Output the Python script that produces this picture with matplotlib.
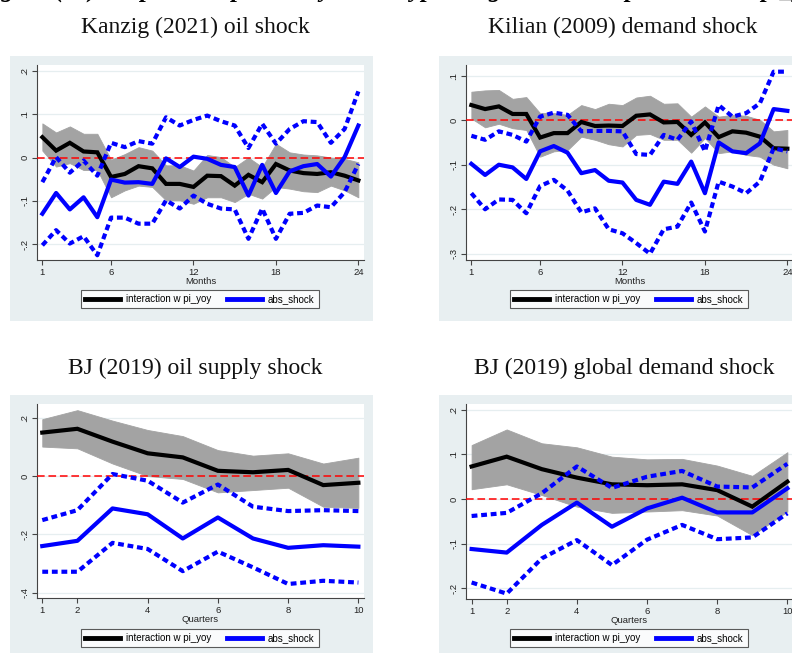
import matplotlib
matplotlib.use("Agg")
import matplotlib.pyplot as plt
from matplotlib.patches import Rectangle
from matplotlib.lines import Line2D

# ---- data ----
months = list(range(1, 25))
quarters = list(range(1, 11))

# Kanzig (2021) oil shock
k_pt = [0.047, 0.016, 0.034, 0.014, 0.012, -0.045, -0.038, -0.020, -0.025, -0.061, -0.061, -0.068,
        -0.042, -0.043, -0.065, -0.040, -0.057, -0.015, -0.030, -0.036, -0.038, -0.034, -0.042, -0.053]
k_hi = [0.079, 0.058, 0.072, 0.055, 0.055, -0.005, 0.008, 0.024, 0.016, -0.018, -0.018, -0.030,
        0.006, 0.001, -0.022, 0.000, -0.022, 0.032, 0.012, 0.007, 0.005, 0.000, -0.003, -0.011]
k_lo = [0.016, -0.021, -0.013, -0.029, -0.029, -0.092, -0.076, -0.065, -0.068, -0.099, -0.099, -0.107,
        -0.092, -0.092, -0.103, -0.084, -0.095, -0.068, -0.072, -0.078, -0.080, -0.065, -0.076, -0.092]
k_abs = [-0.130, -0.082, -0.120, -0.092, -0.138, -0.051, -0.058, -0.057, -0.061, -0.002, -0.022, 0.002,
         -0.003, -0.017, -0.022, -0.088, -0.017, -0.082, -0.032, -0.020, -0.015, -0.044, 0.001, 0.074]
k_abs_hi = [-0.057, 0.001, -0.035, -0.007, -0.042, 0.034, 0.024, 0.038, 0.032, 0.093, 0.074, 0.087,
            0.097, 0.084, 0.074, 0.022, 0.078, 0.032, 0.066, 0.084, 0.082, 0.034, 0.066, 0.153]
k_abs_lo = [-0.203, -0.168, -0.199, -0.182, -0.226, -0.139, -0.139, -0.153, -0.153, -0.099, -0.118, -0.088,
            -0.107, -0.118, -0.120, -0.188, -0.118, -0.188, -0.130, -0.128, -0.111, -0.115, -0.080, -0.015]

# Kilian (2009) demand shock
l_pt = [0.034, 0.025, 0.031, 0.014, 0.014, -0.039, -0.029, -0.029, -0.004, -0.013, -0.012, -0.013,
        0.010, 0.013, -0.005, -0.004, -0.033, -0.005, -0.038, -0.025, -0.028, -0.037, -0.063, -0.064]
l_hi = [0.064, 0.067, 0.068, 0.048, 0.052, 0.016, 0.016, 0.012, 0.034, 0.025, 0.037, 0.034,
        0.051, 0.055, 0.037, 0.038, 0.008, 0.031, 0.008, 0.012, 0.010, 0.001, -0.025, -0.022]
l_lo = [0.004, -0.016, -0.008, -0.018, -0.022, -0.082, -0.070, -0.067, -0.037, -0.044, -0.054, -0.059,
        -0.033, -0.031, -0.044, -0.044, -0.073, -0.040, -0.074, -0.070, -0.078, -0.082, -0.100, -0.108]
l_abs = [-0.098, -0.123, -0.100, -0.106, -0.132, -0.070, -0.058, -0.073, -0.119, -0.112, -0.136, -0.140,
         -0.179, -0.190, -0.138, -0.143, -0.093, -0.164, -0.050, -0.070, -0.074, -0.052, 0.025, 0.021]
l_abs_hi = [-0.035, -0.044, -0.025, -0.033, -0.048, 0.008, 0.017, 0.012, -0.025, -0.024, -0.024, -0.025,
            -0.076, -0.078, -0.033, -0.044, -0.003, -0.070, 0.034, 0.008, 0.016, 0.038, 0.109, 0.109]
l_abs_lo = [-0.164, -0.200, -0.178, -0.179, -0.209, -0.148, -0.134, -0.158, -0.207, -0.198, -0.245, -0.254,
            -0.276, -0.300, -0.245, -0.239, -0.185, -0.250, -0.138, -0.149, -0.164, -0.138, -0.063, -0.070]

# BJ (2019) oil supply shock
s_pt = [0.149, 0.162, 0.118, 0.078, 0.064, 0.018, 0.013, 0.021, -0.031, -0.023]
s_hi = [0.195, 0.226, 0.190, 0.158, 0.137, 0.089, 0.070, 0.078, 0.043, 0.063]
s_lo = [0.101, 0.095, 0.043, 0.000, -0.010, -0.056, -0.048, -0.040, -0.105, -0.109]
s_abs = [-0.240, -0.222, -0.111, -0.131, -0.214, -0.142, -0.214, -0.246, -0.237, -0.242]
s_abs_hi = [-0.151, -0.117, 0.007, -0.016, -0.091, -0.029, -0.105, -0.120, -0.117, -0.120]
s_abs_lo = [-0.328, -0.328, -0.229, -0.250, -0.326, -0.259, -0.313, -0.370, -0.359, -0.365]

# BJ (2019) global demand shock
g_pt = [0.073, 0.095, 0.067, 0.048, 0.033, 0.031, 0.033, 0.020, -0.017, 0.039]
g_hi = [0.121, 0.156, 0.125, 0.116, 0.095, 0.089, 0.090, 0.075, 0.052, 0.105]
g_lo = [0.022, 0.033, 0.009, -0.017, -0.031, -0.028, -0.025, -0.037, -0.081, -0.028]
g_abs = [-0.112, -0.120, -0.058, -0.008, -0.062, -0.021, 0.003, -0.030, -0.030, 0.024]
g_abs_hi = [-0.038, -0.031, 0.013, 0.073, 0.025, 0.050, 0.063, 0.028, 0.026, 0.079]
g_abs_lo = [-0.187, -0.212, -0.133, -0.092, -0.148, -0.091, -0.058, -0.090, -0.086, -0.032]

titles = ["Kanzig (2021) oil shock", "Kilian (2009) demand shock",
          "BJ (2019) oil supply shock", "BJ (2019) global demand shock"]
legend_labels = ["interaction w pi_yoy", "abs_shock"]

W, H = 792, 653
BG = "#e8eff1"
GREY = "#a3a3a3"
BLUE = "#0000ff"
sans = "Liberation Sans"
serif = "Liberation Serif"
FS = 6.8

fig = plt.figure(figsize=(W / 100, H / 100), dpi=100)
fig.patch.set_facecolor("white")


def fx(px):
    return px / W


def fy(py):
    return 1 - py / H


def stata_lab(v):
    if abs(v) < 1e-9:
        return "0"
    s = f"{v:g}"
    return s.replace("0.", ".")


def panel(box, axpos, title, tpos, x, pt, lo, hi, ab, ab_lo, ab_hi,
          xticks, yticks, xlim, ylim, xlabel, legpos):
    # light graph region
    x0, y0, x1, y1 = box
    fig.add_artist(Rectangle((fx(x0), fy(y1)), fx(x1) - fx(x0), fy(y0) - fy(y1),
                             transform=fig.transFigure, facecolor=BG, edgecolor="none", zorder=0))
    fig.text(fx(tpos[0]), fy(tpos[1]), title, family=serif, fontsize=17,
             ha="center", va="center", color="#111111")
    l, t, r, b = axpos
    ax = fig.add_axes([fx(l), fy(b), fx(r) - fx(l), fy(t) - fy(b)])
    ax.set_facecolor("white")
    ax.fill_between(x, lo, hi, color=GREY, lw=0.6, edgecolor=GREY, zorder=2)
    ax.axhline(0, color="#ff0000", lw=1.1, ls=(0, (5, 2.5)), zorder=3)
    ax.plot(x, pt, color="black", lw=3, zorder=4, solid_joinstyle="miter")
    ax.plot(x, ab, color=BLUE, lw=3, zorder=5)
    ax.plot(x, ab_hi, color=BLUE, lw=3, ls=(0, (1.4, 0.9)), zorder=5)
    ax.plot(x, ab_lo, color=BLUE, lw=3, ls=(0, (1.4, 0.9)), zorder=5)
    ax.set_xlim(*xlim)
    ax.set_ylim(*ylim)
    ax.set_xticks(xticks)
    ax.set_xticklabels([str(v) for v in xticks], family=sans, fontsize=FS, color="#222222")
    ax.set_yticks(yticks)
    ax.set_yticklabels([stata_lab(v) for v in yticks], family=sans, fontsize=FS,
                       rotation=90, va="center", color="#222222")
    ax.yaxis.grid(True, color="#e6eef0", lw=0.9)
    ax.set_axisbelow(True)
    for side in ["top", "right"]:
        ax.spines[side].set_visible(False)
    for side in ["left", "bottom"]:
        ax.spines[side].set_color("#444444")
        ax.spines[side].set_linewidth(0.8)
    ax.tick_params(length=3.5, width=0.8, color="#444444", pad=2)
    ax.set_xlabel(xlabel, family=sans, fontsize=FS, labelpad=0, color="#222222")
    handles = [Line2D([], [], color="black", lw=3.5), Line2D([], [], color=BLUE, lw=3.5)]
    leg = ax.legend(handles, legend_labels, loc="center", ncol=2,
                    bbox_to_anchor=(fx(legpos[0]), fy(legpos[1])), bbox_transform=fig.transFigure,
                    prop={"family": sans, "size": FS + 0.2}, frameon=True, fancybox=False,
                    handlelength=3.6, handletextpad=0.6, columnspacing=1.6,
                    borderpad=0.45, borderaxespad=0)
    leg.get_frame().set_edgecolor("#333333")
    leg.get_frame().set_linewidth(0.8)
    return ax


panel((10, 56, 373, 321), (37, 65, 364, 260), titles[0], (195, 27),
      months, k_pt, k_lo, k_hi, k_abs, k_abs_lo, k_abs_hi,
      [1, 6, 12, 18, 24], [-0.2, -0.1, 0, 0.1, 0.2], (0.61, 24.41), (-0.237, 0.214),
      "Months", (200, 299))
panel((439, 56, 802, 321), (466, 65, 793, 260), titles[1], (623, 27),
      months, l_pt, l_lo, l_hi, l_abs, l_abs_lo, l_abs_hi,
      [1, 6, 12, 18, 24], [-0.3, -0.2, -0.1, 0, 0.1], (0.61, 24.41), (-0.314, 0.124),
      "Months", (629, 299))
panel((10, 395, 373, 660), (37, 404, 364, 598), titles[2], (195, 368),
      quarters, s_pt, s_lo, s_hi, s_abs, s_abs_lo, s_abs_hi,
      [1, 2, 4, 6, 8, 10], [-0.4, -0.2, 0, 0.2], (0.85, 10.16), (-0.418, 0.247),
      "Quarters", (200, 638))
panel((439, 395, 802, 660), (466, 404, 793, 599), titles[3], (624, 368),
      quarters, g_pt, g_lo, g_hi, g_abs, g_abs_lo, g_abs_hi,
      [1, 2, 4, 6, 8, 10], [-0.2, -0.1, 0, 0.1, 0.2], (0.84, 10.16), (-0.224, 0.213),
      "Quarters", (629, 638))

# caption line cut off at the top of the screenshot (only its lower edge shows)
fig.text(fx(-22), fy(-3), "Figure (xx): Impulse responses by shock type: original state dependence on pi_yoy",
         family=serif, fontsize=18, style="italic", weight="bold", va="baseline", ha="left")

fig.savefig("out.png", dpi=100)
